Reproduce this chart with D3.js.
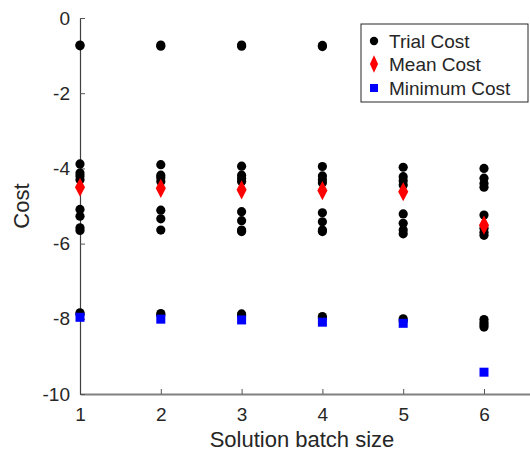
<!DOCTYPE html>
<html>
<head>
<meta charset="utf-8">
<script src="https://cdn.jsdelivr.net/npm/d3@7"></script>
<style>
  body { margin: 0; background: #fff; }
  text { font-family: "Liberation Sans", Arial, sans-serif; fill: #262626; }
</style>
</head>
<body>
<svg id="chart"></svg>
<script>
// Width and height of svg
var width = 530;
var height = 452;

// batch sizes on the x axis
var batchSizes = [1, 2, 3, 4, 5, 6];

// costs of every trial, one list per batch size
var trialCosts = [
  [-0.72, -0.74, -3.88, -4.12, -4.2, -4.3, -5.09, -5.27, -5.58, -5.65, -7.84, -7.88],
  [-0.72, -0.75, -3.9, -4.18, -4.25, -4.35, -5.11, -5.34, -5.64, -7.86, -7.9],
  [-0.72, -0.75, -3.94, -4.18, -4.27, -4.35, -5.15, -5.39, -5.64, -5.68, -7.87, -7.92],
  [-0.73, -0.76, -3.95, -4.2, -4.3, -4.38, -5.18, -5.42, -5.64, -5.68, -7.94, -7.98],
  [-3.97, -4.22, -4.33, -4.44, -5.21, -5.46, -5.64, -5.74, -8.0, -8.06],
  [-4.0, -4.26, -4.4, -4.5, -5.24, -5.59, -5.7, -5.78, -8.02, -8.1, -8.16, -8.22]
];
var meanCosts = [-4.5, -4.53, -4.57, -4.59, -4.62, -5.51];
var minCosts = [-7.96, -8.01, -8.03, -8.09, -8.12, -9.42];

var yTicks = [0, -2, -4, -6, -8, -10];
var legendLabels = ["Trial Cost", "Mean Cost", "Minimum Cost"];

var svg = d3.select("#chart")
  .attr("width", width)
  .attr("height", height);

var x = d3.scaleLinear().domain([1, 7]).range([80, 564.8]);
var y = d3.scaleLinear().domain([-10, 0]).range([394, 18]);

// plain hyphen minus, like matlab
var fmt = function(d) { return String(d); };

// axes, ticks pointing inward like matlab
var xAxis = svg.append("g")
  .attr("transform", "translate(0,394)")
  .call(d3.axisBottom(x).tickValues(batchSizes).tickFormat(fmt).tickSizeInner(-5).tickSizeOuter(0).tickPadding(10));
var yAxis = svg.append("g")
  .attr("transform", "translate(80,0)")
  .call(d3.axisLeft(y).tickValues(yTicks).tickFormat(fmt).tickSizeInner(-5).tickSizeOuter(0).tickPadding(10));

xAxis.select(".domain").attr("stroke", "#808080").attr("stroke-width", 2);
yAxis.select(".domain").attr("stroke", "#404040").attr("stroke-width", 1.2);
svg.selectAll(".tick line").attr("stroke", "#555");
svg.selectAll(".tick text").style("font-size", "19px").attr("fill", "#262626");
xAxis.selectAll(".tick text").attr("dy", "0.9em");

svg.append("text")
  .attr("x", 302).attr("y", 447)
  .attr("text-anchor", "middle")
  .style("font-size", "22px")
  .text("Solution batch size");

svg.append("text")
  .attr("transform", "translate(29,206)rotate(-90)")
  .attr("text-anchor", "middle")
  .style("font-size", "22px")
  .text("Cost");

// flatten trial points
var trialPoints = [];
trialCosts.forEach(function(list, i) {
  list.forEach(function(c) { trialPoints.push({b: batchSizes[i], c: c}); });
});

svg.append("g").selectAll("circle")
  .data(trialPoints)
  .enter()
  .append("circle")
  .attr("cx", function(d) { return x(d.b); })
  .attr("cy", function(d) { return y(d.c); })
  .attr("r", 4.6)
  .style("fill", "#000");

var diamond = d3.symbol().type(d3.symbolDiamond).size(80);
svg.append("g").selectAll("path")
  .data(meanCosts)
  .enter()
  .append("path")
  .attr("d", diamond)
  .attr("transform", function(d, i) { return "translate(" + x(batchSizes[i]) + "," + y(d) + ")scale(1.05,1.15)"; })
  .style("fill", "#f00");

svg.append("g").selectAll("rect")
  .data(minCosts)
  .enter()
  .append("rect")
  .attr("x", function(d, i) { return x(batchSizes[i]) - 4.5; })
  .attr("y", function(d) { return y(d) - 4.5; })
  .attr("width", 9)
  .attr("height", 9)
  .style("fill", "#00f");

// legend
var legend = svg.append("g").attr("transform", "translate(361,24)");
legend.append("rect")
  .attr("width", 167).attr("height", 78)
  .style("fill", "#fff").style("stroke", "#262626").style("stroke-width", 1);

var rowY = [17, 40, 64];
legend.append("circle").attr("cx", 13).attr("cy", rowY[0]).attr("r", 4.2).style("fill", "#000");
legend.append("path").attr("d", diamond)
  .attr("transform", "translate(13," + rowY[1] + ")scale(0.85,1.05)").style("fill", "#f00");
legend.append("rect").attr("x", 9).attr("y", rowY[2] - 4).attr("width", 8).attr("height", 8).style("fill", "#00f");

legend.selectAll("text.lbl")
  .data(legendLabels)
  .enter()
  .append("text")
  .attr("class", "lbl")
  .attr("x", 28)
  .attr("y", function(d, i) { return rowY[i]; })
  .attr("dy", "0.35em")
  .style("font-size", "19px")
  .text(function(d) { return d; });
</script>
</body>
</html>
